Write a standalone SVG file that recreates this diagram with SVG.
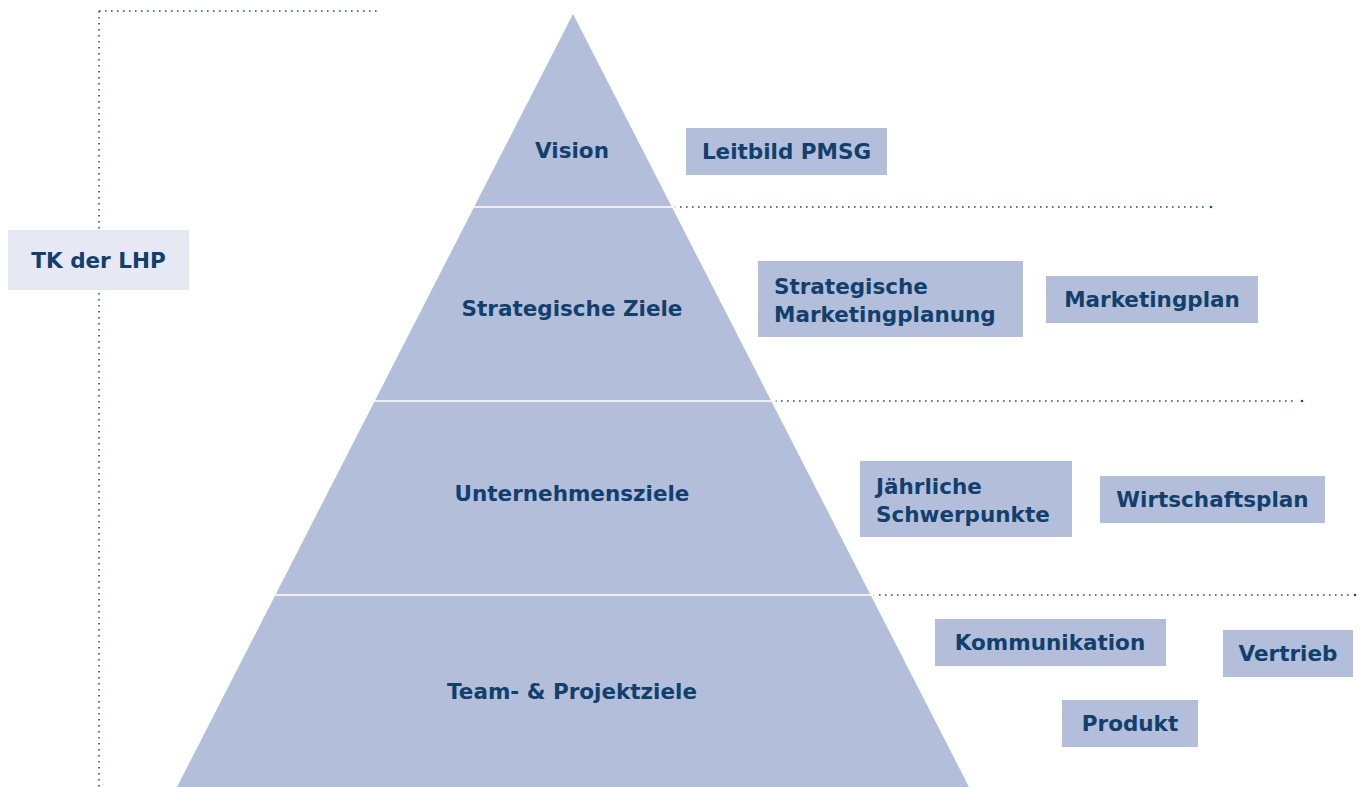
<svg xmlns="http://www.w3.org/2000/svg" width="1362" height="787" viewBox="0 0 1362 787">
  <style>
    .lbl { font-family: "DejaVu Sans", "Liberation Sans", sans-serif; font-weight: bold; font-size: 21.5px; fill: #123f6c; }
    .mid { text-anchor: middle; }
    .box { fill: #b3bedb; }
    .tier { fill: #b3bedb; }
    .sep { stroke: #ffffff; stroke-width: 1.5; }
    .dots { stroke: #1f4e79; stroke-width: 1.6; stroke-dasharray: 1.6 4.4; fill: none; }
    .dot { fill: #1f4e79; }
  </style>
  <rect width="1362" height="787" fill="#ffffff"/>

  <!-- dotted guide lines -->
  <g id="connectors">
    <path class="dots" d="M99 11 H377"/>
    <path class="dots" d="M99 11 V787"/>
    <path class="dots" d="M674 207 H1204"/>
    <path class="dots" d="M775 401 H1296"/>
    <path class="dots" d="M873 595 H1352"/>
    <circle class="dot" cx="1211" cy="207" r="1.3"/>
    <circle class="dot" cx="1302" cy="401" r="1.3"/>
    <circle class="dot" cx="1355" cy="595" r="1.3"/>
  </g>

  <!-- pyramid -->
  <g id="pyramid">
    <polygon class="tier" points="573,14 969,787 177,787"/>
    <line class="sep" x1="470" y1="207" x2="676" y2="207"/>
    <line class="sep" x1="370" y1="401" x2="776" y2="401"/>
    <line class="sep" x1="270" y1="595" x2="876" y2="595"/>
  </g>
  <g id="tier-vision"><text class="lbl mid" x="572" y="158">Vision</text></g>
  <g id="tier-strategic"><text class="lbl mid" x="572" y="316">Strategische Ziele</text></g>
  <g id="tier-corporate"><text class="lbl mid" x="572" y="501">Unternehmensziele</text></g>
  <g id="tier-team"><text class="lbl mid" x="572" y="699">Team- &amp; Projektziele</text></g>

  <!-- side label -->
  <g id="tk">
    <rect x="8" y="230" width="181" height="60" fill="#e6e9f4"/>
    <text class="lbl mid" x="98.5" y="268">TK der LHP</text>
  </g>

  <!-- instrument boxes -->
  <g id="leitbild">
    <rect class="box" x="686" y="128" width="201" height="47"/>
    <text class="lbl mid" x="786.5" y="159">Leitbild PMSG</text>
  </g>
  <g id="strat-marketing">
    <rect class="box" x="758" y="261" width="265" height="76"/>
    <text class="lbl" x="774" y="294">Strategische</text>
    <text class="lbl" x="774" y="322">Marketingplanung</text>
  </g>
  <g id="marketingplan">
    <rect class="box" x="1046" y="276" width="212" height="47"/>
    <text class="lbl mid" x="1152" y="307">Marketingplan</text>
  </g>
  <g id="schwerpunkte">
    <rect class="box" x="860" y="461" width="212" height="76"/>
    <text class="lbl" x="876" y="494">Jährliche</text>
    <text class="lbl" x="876" y="522">Schwerpunkte</text>
  </g>
  <g id="wirtschaftsplan">
    <rect class="box" x="1100" y="476" width="225" height="47"/>
    <text class="lbl mid" x="1212.5" y="507">Wirtschaftsplan</text>
  </g>
  <g id="kommunikation">
    <rect class="box" x="935" y="619" width="231" height="47"/>
    <text class="lbl mid" x="1050" y="650">Kommunikation</text>
  </g>
  <g id="vertrieb">
    <rect class="box" x="1223" y="630" width="130" height="47"/>
    <text class="lbl mid" x="1288" y="661">Vertrieb</text>
  </g>
  <g id="produkt">
    <rect class="box" x="1062" y="700" width="136" height="47"/>
    <text class="lbl mid" x="1130" y="731">Produkt</text>
  </g>
</svg>
